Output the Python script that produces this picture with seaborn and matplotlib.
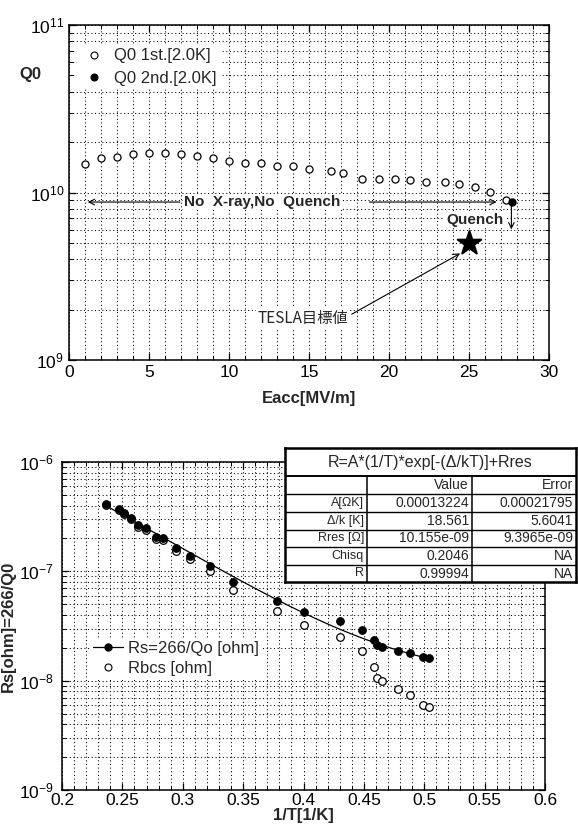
import numpy as np
import pandas as pd
import matplotlib
matplotlib.use("Agg")
import matplotlib.pyplot as plt
import matplotlib.ticker as mticker
from matplotlib.lines import Line2D
import seaborn as sns

# --- top panel: Q0 vs Eacc ---
eacc_1st = [1, 2, 3, 4, 5, 6, 7, 8, 9, 10, 11, 12, 13, 14, 15.0,
            16.4, 17.1, 18.3, 19.4, 20.4, 21.3, 22.3, 23.5, 24.4, 25.4, 26.3, 27.3]
q0_1st = [1.47e10, 1.60e10, 1.64e10, 1.69e10, 1.71e10, 1.71e10, 1.69e10, 1.66e10, 1.61e10,
          1.55e10, 1.49e10, 1.49e10, 1.445e10, 1.43e10, 1.38e10, 1.34e10, 1.30e10, 1.20e10,
          1.20e10, 1.20e10, 1.19e10, 1.16e10, 1.15e10, 1.12e10, 1.08e10, 1.01e10, 0.90e10]
eacc_2nd = [27.7]
q0_2nd = [0.874e10]
tesla_eacc = [25.0]
tesla_q0 = [5.0e9]

# --- bottom panel: Rs vs 1/T ---
inv_t = [0.2364, 0.2472, 0.2513, 0.2571, 0.2629, 0.2695, 0.2778, 0.2836, 0.2944, 0.306,
         0.3225, 0.3416, 0.378, 0.4003, 0.430, 0.4483, 0.4583, 0.4608, 0.4649, 0.4781,
         0.488, 0.4988, 0.5038]
rs = [4.15e-7, 3.74e-7, 3.44e-7, 3.10e-7, 2.67e-7, 2.51e-7, 2.08e-7, 2.04e-7, 1.62e-7,
      1.37e-7, 1.11e-7, 7.94e-8, 5.34e-8, 4.24e-8, 3.51e-8, 2.91e-8, 2.36e-8, 2.12e-8,
      2.04e-8, 1.87e-8, 1.80e-8, 1.65e-8, 1.62e-8]
rbcs = [4.05e-7, 3.64e-7, 3.34e-7, 3.0e-7, 2.57e-7, 2.41e-7, 1.98e-7, 1.94e-7, 1.52e-7,
        1.29e-7, 1.0e-7, 6.7e-8, 4.33e-8, 3.23e-8, 2.51e-8, 1.87e-8, 1.34e-8, 1.06e-8,
        1.0e-8, 8.45e-9, 7.46e-9, 6.05e-9, 5.8e-9]

# fit parameters (from the table)
fit_a = 0.00013224
fit_dk = 18.561
fit_rres = 10.155e-9
table_labels = ['A[ΩK]', 'Δ/k [K]', 'Rres [Ω]', 'Chisq', 'R']
table_values = ['0.00013224', '18.561', '10.155e-09', '0.2046', '0.99994']
table_errors = ['0.00021795', '5.6041', '9.3965e-09', 'NA', 'NA']

sns.set_style("ticks")
plt.rcParams['font.family'] = ['Liberation Sans', 'DejaVu Sans']
plt.rcParams['mathtext.fontset'] = 'custom'
plt.rcParams['mathtext.rm'] = 'Liberation Sans'
plt.rcParams['mathtext.it'] = 'Liberation Sans'

fig = plt.figure(figsize=(5.78, 8.31), dpi=100)
ax1 = fig.add_axes([0.1194, 0.5668, 0.8304, 0.4031])
ax2 = fig.add_axes([0.1073, 0.0493, 0.8356, 0.3947])

white_box = dict(facecolor='white', edgecolor='none', pad=1.0)

def style_axes(ax):
    for s in ax.spines.values():
        s.set_color('black')
        s.set_linewidth(1.1)
    ax.tick_params(which='both', direction='in', top=True, right=True, colors='black',
                   labelsize=12.5)
    ax.tick_params(which='major', length=5, width=0.9)
    ax.tick_params(which='minor', length=3, width=0.7)
    ax.grid(True, which='both', color='black', linestyle=(0, (1, 2.5)), linewidth=0.75)
    ax.set_axisbelow(True)

# top panel
sns.scatterplot(x=eacc_1st, y=q0_1st, ax=ax1, marker='o', s=26, color='white',
                edgecolor='black', linewidth=0.9, zorder=3)
sns.scatterplot(x=eacc_2nd, y=q0_2nd, ax=ax1, marker='o', s=26, color='black',
                edgecolor='black', linewidth=0.9, zorder=4)
sns.scatterplot(x=tesla_eacc, y=tesla_q0, ax=ax1, marker='*', s=320, color='black',
                edgecolor='black', zorder=4)
ax1.set_yscale('log')
ax1.set_xlim(0, 30)
ax1.set_ylim(1e9, 1e11)
ax1.xaxis.set_major_locator(mticker.MultipleLocator(5))
ax1.xaxis.set_minor_locator(mticker.MultipleLocator(1))
style_axes(ax1)
ax1.set_xlabel('Eacc[MV/m]', fontsize=12, fontweight='bold', labelpad=8)
ax1.set_ylabel('Q0', fontsize=12, fontweight='bold', rotation=0)
ax1.yaxis.set_label_coords(-0.08, 0.83)

h1 = [Line2D([], [], marker='o', ls='none', mfc='white', mec='black', ms=5, mew=0.8),
      Line2D([], [], marker='o', ls='none', mfc='black', mec='black', ms=5, mew=0.8)]
leg1 = ax1.legend(h1, ['Q0 1st.[2.0K]', 'Q0 2nd.[2.0K]'], loc='upper left', frameon=True,
                  bbox_to_anchor=(0.0, 0.965), fontsize=12, handletextpad=0.4,
                  labelspacing=0.45, handlelength=1.6, borderpad=0.2)
leg1.get_frame().set_edgecolor('none')
leg1.get_frame().set_facecolor('white')
leg1.get_frame().set_alpha(1.0)

y_arr = 0.877e10
ax1.text(7.2, y_arr, 'No  X-ray,No  Quench', fontsize=11, fontweight='bold',
         ha='left', va='center', bbox=white_box, zorder=5)
ax1.annotate('', xy=(1.0, y_arr), xytext=(7.1, y_arr),
             arrowprops=dict(arrowstyle='->', lw=0.8, color='black'))
ax1.annotate('', xy=(26.9, y_arr), xytext=(18.6, y_arr),
             arrowprops=dict(arrowstyle='->', lw=0.8, color='black'))
ax1.text(25.4, 6.85e9, 'Quench', fontsize=11, fontweight='bold', ha='center', va='center',
         bbox=white_box, zorder=5)
ax1.annotate('', xy=(27.65, 5.8e9), xytext=(27.65, 0.865e10),
             arrowprops=dict(arrowstyle='->', lw=0.8, color='black'))
ax1.annotate('TESLA目標値', xy=(24.6, 4.41e9), xytext=(14.6, 1.78e9),
             fontsize=11, ha='center', va='center', bbox=white_box, zorder=5,
             family=['Noto Sans CJK JP', 'DejaVu Sans'],
             arrowprops=dict(arrowstyle='->', lw=0.8, color='black', shrinkA=2, shrinkB=2,
                             relpos=(1.0, 0.6)))

# bottom panel
fit_x = np.linspace(min(inv_t), max(inv_t), 200)
fit_y = fit_a * fit_x * np.exp(-fit_dk * fit_x) + fit_rres
sns.lineplot(x=fit_x, y=fit_y, ax=ax2, color='black', linewidth=0.9, zorder=2)
sns.scatterplot(x=inv_t, y=rbcs, ax=ax2, marker='o', s=30, color='white',
                edgecolor='black', linewidth=0.9, zorder=3)
sns.scatterplot(x=inv_t, y=rs, ax=ax2, marker='o', s=30, color='black',
                edgecolor='black', linewidth=0.8, zorder=4)
ax2.set_yscale('log')
ax2.set_xlim(0.2, 0.6)
ax2.set_ylim(1e-9, 1e-6)
ax2.xaxis.set_major_locator(mticker.MultipleLocator(0.05))
ax2.xaxis.set_minor_locator(mticker.MultipleLocator(0.01))
ax2.xaxis.set_major_formatter(mticker.FuncFormatter(lambda v, p: f'{v:g}'))
style_axes(ax2)
ax2.tick_params(axis='x', pad=2)
ax2.tick_params(axis='y', pad=6)
ax2.set_xlabel('1/T[1/K]', fontsize=12, fontweight='bold', labelpad=0)
ax2.set_ylabel('Rs[ohm]=266/Q0', fontsize=12, fontweight='bold')
ax2.yaxis.set_label_coords(-0.095, 0.5)

h2 = [Line2D([], [], marker='o', ls='-', color='black', mfc='black', ms=5, lw=0.9),
      Line2D([], [], marker='o', ls='none', mfc='white', mec='black', ms=5, mew=0.8)]
leg2 = ax2.legend(h2, ['Rs=266/Qo [ohm]', 'Rbcs [ohm]'], loc='upper left', frameon=True,
                  bbox_to_anchor=(0.04, 0.49), fontsize=12, handletextpad=0.3,
                  labelspacing=0.3, handlelength=1.8, borderpad=0.2)
leg2.get_frame().set_edgecolor('none')
leg2.get_frame().set_facecolor('white')
leg2.get_frame().set_alpha(1.0)

# fit-result table, drawn in pixel units
tab = fig.add_axes([285 / 578, 1 - 582 / 831, 291 / 578, 134 / 831], zorder=5)
tab.set_xlim(285, 576)
tab.set_ylim(582, 448)
tab.set_xticks([])
tab.set_yticks([])
tab.set_facecolor('white')
for s in tab.spines.values():
    s.set_linewidth(1.8)
    s.set_color('black')
row_lines = [476, 494, 512, 530, 547, 565]
for i, yl in enumerate(row_lines):
    tab.plot([285, 576], [yl, yl], color='black', lw=1.0 if i else 1.4)
for xl in [367, 472]:
    tab.plot([xl, xl], [476, 582], color='black', lw=1.1)
tab.text(430, 462, 'R=A*(1/T)*exp[-(Δ/kT)]+Rres', fontsize=11.5, ha='center', va='center')
tab.text(469, 485, 'Value', fontsize=10, ha='right', va='center')
tab.text(573, 485, 'Error', fontsize=10, ha='right', va='center')
row_mid = [503, 521, 538.5, 556, 573.5]
for ym, lab, val, err in zip(row_mid, table_labels, table_values, table_errors):
    tab.text(364, ym, lab, fontsize=9, ha='right', va='center')
    tab.text(469, ym, val, fontsize=10, ha='right', va='center')
    tab.text(573, ym, err, fontsize=10, ha='right', va='center')

fig.savefig('out.png', dpi=100)
